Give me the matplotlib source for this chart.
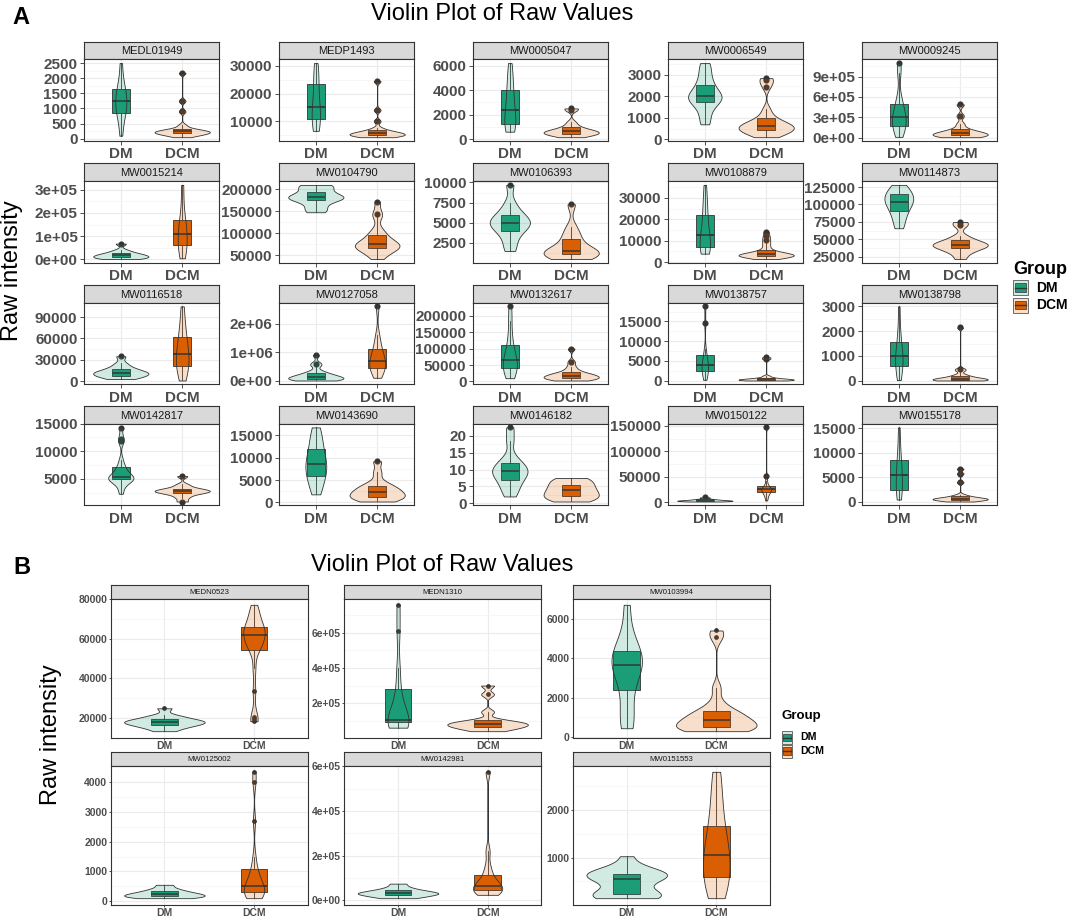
import numpy as np
import matplotlib
matplotlib.use("Agg")
import matplotlib.pyplot as plt
from matplotlib.patches import Rectangle
from matplotlib.lines import Line2D
from matplotlib.ticker import AutoMinorLocator

plt.rcParams['font.family'] = ['Liberation Sans', 'DejaVu Sans']

W, H = 1072, 917

groups = ["DM", "DCM"]
group_colors = ["#1B9E77", "#D95F02"]

# ---- panel A : raw intensities (approximate samples) ----
a_names = ["MEDL01949", "MEDP1493", "MW0005047", "MW0006549", "MW0009245",
           "MW0015214", "MW0104790", "MW0106393", "MW0108879", "MW0114873",
           "MW0116518", "MW0127058", "MW0132617", "MW0138757", "MW0138798",
           "MW0142817", "MW0143690", "MW0146182", "MW0150122", "MW0155178"]

a_dm = [
    [100, 500, 800, 850, 1000, 1150, 1250, 1300, 1450, 1650, 1700, 2000, 2500],
    [6500, 8000, 10500, 12000, 14500, 16000, 20000, 24500, 27000, 31000],
    [600, 800, 1000, 1250, 1500, 2000, 2400, 2800, 3500, 4000, 4600, 5400, 6200],
    [700, 1100, 1500, 1750, 1850, 1950, 2000, 2100, 2300, 2550, 2800, 3200, 3550],
    [10000, 80000, 150000, 170000, 220000, 280000, 310000, 350000, 420000, 500000, 600000, 960000, 1100000],
    [2000, 5000, 8000, 10000, 14000, 18000, 20000, 25000, 30000, 40000, 68000],
    [148000, 155000, 165000, 175000, 178000, 180000, 182000, 185000, 190000, 195000, 205000, 208000, 210000],
    [1500, 2500, 3500, 4000, 4500, 4800, 5000, 5200, 5600, 6000, 6500, 7500, 9700],
    [4000, 5000, 6500, 7000, 8000, 10000, 12500, 14000, 18000, 22000, 25000, 30000, 36000],
    [66000, 75000, 85000, 90000, 97000, 102000, 104000, 107000, 110000, 115000, 118000, 122000, 128000],
    [3000, 5000, 7000, 8000, 10000, 11000, 12000, 13000, 15000, 17000, 20000, 25000, 35000],
    [5000, 15000, 30000, 45000, 55000, 70000, 90000, 110000, 130000, 150000, 180000, 210000, 240000,
     280000, 350000, 550000, 600000, 900000],
    [10000, 20000, 35000, 40000, 50000, 58000, 65000, 75000, 90000, 112000, 140000, 185000, 228000],
    [200, 1000, 2000, 2500, 3000, 3600, 4000, 4500, 5500, 6500, 8000, 14500, 18800],
    [20, 200, 450, 580, 750, 880, 980, 1100, 1300, 1580, 1800, 2300, 3000],
    [2300, 3500, 4300, 4800, 5000, 5050, 5100, 5150, 5200, 5400, 5800, 6300, 7000, 7200, 8500,
     11800, 12300, 14300],
    [1800, 3500, 5000, 6000, 7000, 8000, 8500, 9500, 10500, 12000, 13500, 15000, 16800],
    [2, 4, 5.5, 7, 8, 9, 9.5, 10, 11, 12, 13.5, 18.5, 22.5],
    [1000, 1500, 2000, 2200, 2600, 3000, 3400, 4000, 5000, 6000, 9000],
    [500, 1500, 2000, 2500, 3500, 4500, 5500, 6500, 7500, 8500, 10000, 12500, 15200],
]

a_dcm = [
    [50, 100, 130, 150, 170, 190, 200, 220, 230, 250, 270, 280, 300, 350, 450, 900, 1250, 2180],
    [4200, 4400, 4600, 4800, 5000, 5200, 5400, 5500, 5700, 6000, 6300, 6600, 7500, 10000, 14000, 24500],
    [150, 250, 350, 400, 450, 500, 550, 600, 650, 700, 800, 900, 1100, 1400, 2400, 2500],
    [100, 200, 300, 350, 400, 450, 500, 550, 580, 620, 700, 750, 800, 900, 1100, 1400, 2450, 2750, 2850],
    [5000, 15000, 25000, 30000, 40000, 50000, 60000, 70000, 85000, 100000, 130000, 200000, 320000, 490000],
    [5000, 30000, 55000, 65000, 90000, 110000, 130000, 160000, 175000, 240000, 320000],
    [42000, 50000, 58000, 62000, 66000, 68000, 70000, 72000, 74000, 76000, 78000, 82000, 88000, 95000,
     100000, 110000, 140000, 145000, 172000],
    [500, 700, 900, 1100, 1200, 1400, 1500, 1700, 2200, 3000, 3500, 4500, 7300],
    [1500, 2000, 2300, 2500, 2700, 2900, 3000, 3200, 3300, 3500, 3600, 3800, 4000, 4300, 4500, 5000,
     6000, 7500, 9000, 10500, 12000, 14000],
    [22000, 30000, 34000, 37000, 39000, 41000, 42000, 43000, 45000, 47000, 50000, 55000, 70000, 75000],
    [1000, 10000, 17000, 22000, 28000, 33000, 38000, 45000, 52000, 62000, 70000, 85000, 105000],
    [100000, 250000, 400000, 450000, 550000, 650000, 700000, 800000, 950000, 1100000, 1300000, 1600000, 2600000],
    [3000, 5000, 7000, 9000, 10000, 12000, 14000, 16000, 18000, 20000, 22000, 25000, 28000, 35000,
     45000, 60000, 100000],
    [20, 50, 100, 130, 180, 250, 300, 350, 400, 500, 600, 800, 1200, 5500, 5900],
    [5, 10, 15, 20, 30, 40, 50, 60, 80, 100, 120, 150, 200, 250, 430, 460, 2150],
    [900, 1600, 2100, 2400, 2550, 2700, 2800, 2900, 3050, 3200, 3500, 4000, 5500],
    [200, 500, 800, 1100, 1300, 1600, 1900, 2300, 2600, 3000, 3400, 3800, 4500, 6700, 9200],
    [0.5, 1, 1.5, 2, 2.5, 3, 3.8, 4.2, 5, 5.5, 6.5, 7, 7.5],
    [3000, 10000, 15000, 18000, 20000, 22000, 24000, 25000, 26000, 28000, 30000, 33000, 42000, 52000, 147000],
    [100, 200, 300, 400, 500, 550, 600, 650, 700, 800, 900, 1000, 1200, 1500, 4000, 5800, 6800],
]

a_ticks = [
    [0, 500, 1000, 1500, 2000, 2500], [10000, 20000, 30000], [0, 2000, 4000, 6000],
    [0, 1000, 2000, 3000], [0, 300000, 600000, 900000],
    [0, 100000, 200000, 300000], [50000, 100000, 150000, 200000], [2500, 5000, 7500, 10000],
    [0, 10000, 20000, 30000], [25000, 50000, 75000, 100000, 125000],
    [0, 30000, 60000, 90000], [0, 1000000, 2000000], [0, 50000, 100000, 150000, 200000],
    [0, 5000, 10000, 15000], [0, 1000, 2000, 3000],
    [5000, 10000, 15000], [0, 5000, 10000, 15000], [0, 5, 10, 15, 20],
    [0, 50000, 100000, 150000], [0, 5000, 10000, 15000],
]
a_sci = ["MW0009245", "MW0015214", "MW0127058"]

# ---- panel B ----
b_names = ["MEDN0523", "MEDN1310", "MW0103994", "MW0125002", "MW0142981", "MW0151553"]

b_dm = [
    [13500, 15000, 16000, 16500, 17200, 17800, 18000, 18500, 19000, 19500, 20500, 21500, 25000],
    [60000, 70000, 85000, 90000, 95000, 100000, 105000, 150000, 200000, 280000, 400000, 610000, 760000],
    [450, 800, 1500, 2400, 3000, 3500, 3650, 3800, 4000, 4350, 4600, 5300, 6700],
    [100, 120, 150, 180, 200, 230, 260, 300, 350, 420, 550],
    [10000, 15000, 20000, 25000, 28000, 31000, 33000, 36000, 40000, 45000, 50000, 60000, 75000],
    [150, 160, 180, 200, 220, 250, 280, 450, 550, 560, 580, 640, 660, 670, 690, 720, 800, 1030],
]

b_dcm = [
    [18500, 19500, 20500, 33500, 45000, 54500, 56000, 57000, 58000, 60000, 62000, 62500, 63000,
     64000, 65000, 66000, 67000, 70000, 72000, 74000, 77000],
    [40000, 50000, 58000, 65000, 70000, 75000, 80000, 85000, 90000, 95000, 105000, 150000, 250000, 300000],
    [300, 320, 350, 400, 450, 500, 600, 650, 700, 800, 900, 1000, 1100, 1200, 1300, 1400, 1800, 2500,
     5050, 5400],
    [100, 150, 200, 250, 280, 330, 380, 430, 480, 550, 650, 800, 960, 1100, 1500, 2700, 4000, 4350],
    [25000, 35000, 42000, 45000, 52000, 58000, 65000, 75000, 90000, 115000, 150000, 220000, 575000],
    [150, 300, 450, 600, 800, 950, 1060, 1200, 1450, 1670, 2000, 2400, 2800],
]

b_ticks = [
    [20000, 40000, 60000, 80000], [200000, 400000, 600000], [0, 2000, 4000, 6000],
    [0, 1000, 2000, 3000, 4000], [0, 200000, 400000, 600000], [1000, 2000],
]
b_sci = ["MEDN1310", "MW0142981"]


def ydensity(vals):
    # gaussian kde with R's bw.nrd0, trimmed to the data range
    v = np.asarray(vals, dtype=float)
    n = len(v)
    sd = v.std(ddof=1)
    q75, q25 = np.percentile(v, [75, 25])
    lo = min(sd, (q75 - q25) / 1.34) if q75 > q25 else sd
    bw = 0.9 * lo * n ** -0.2
    y = np.linspace(v.min(), v.max(), 512)
    d = np.exp(-0.5 * ((y[:, None] - v[None, :]) / bw) ** 2).sum(axis=1) / (n * bw * np.sqrt(2 * np.pi))
    return y, d


def px_axes(fig, left, top, w, h):
    return fig.add_axes([left / W, 1 - (top + h) / H, w / W, h / H])


def facet(fig, left, top, w, h, strip_h, name, dm, dcm, ticks, sci, st):
    sax = px_axes(fig, left, top, w, strip_h)
    sax.set_facecolor("#D9D9D9")
    sax.set_xticks([])
    sax.set_yticks([])
    for s in sax.spines.values():
        s.set_color("#333333")
        s.set_linewidth(0.8)
    sax.text(0.5, 0.45, name, ha="center", va="center", fontsize=st["strip"],
             color="#1A1A1A", transform=sax.transAxes)

    ax = px_axes(fig, left, top + strip_h, w, h)
    data = [dm, dcm]

    bp = ax.boxplot(data, positions=[1, 2], widths=0.3, patch_artist=True, showcaps=False,
                    whis=1.5, manage_ticks=False,
                    boxprops=dict(edgecolor="#333333", linewidth=0.6),
                    medianprops=dict(color="#333333", linewidth=1.3),
                    whiskerprops=dict(color="#333333", linewidth=0.6),
                    flierprops=dict(marker="o", markerfacecolor="#333333",
                                    markeredgecolor="#333333", markersize=st["dot"]))
    for patch, c in zip(bp["boxes"], group_colors):
        patch.set_facecolor(c)
        patch.set_zorder(2)

    dens = [ydensity(v) for v in data]
    dmax = max(d.max() for _, d in dens)
    for pos, (y, d), c in zip([1, 2], dens, group_colors):
        half = 0.45 * d / dmax
        ax.fill_betweenx(y, pos - half, pos + half, facecolor=matplotlib.colors.to_rgba(c, 0.2),
                         edgecolor="#333333", linewidth=0.6, zorder=3)

    allv = np.concatenate([np.asarray(dm, float), np.asarray(dcm, float)])
    lo, hi = allv.min(), allv.max()
    r = hi - lo
    ax.set_ylim(lo - 0.05 * r, hi + 0.05 * r)
    ax.set_xlim(0.4, 2.6)
    ax.set_xticks([1, 2])
    ax.set_xticklabels(groups)
    ax.set_yticks(ticks)
    if sci:
        ax.set_yticklabels([f"{t:.0e}" for t in ticks])
    else:
        ax.set_yticklabels([str(t) for t in ticks])
    ax.yaxis.set_minor_locator(AutoMinorLocator(2))
    ax.set_axisbelow(True)
    ax.grid(True, which="major", color="#EBEBEB", linewidth=0.8)
    ax.grid(True, which="minor", axis="y", color="#F4F4F4", linewidth=0.5)
    ax.tick_params(which="minor", length=0)
    ax.tick_params(which="major", length=st["tlen"], width=0.6, color="#333333", pad=st["pad"],
                   labelsize=st["tick"], labelcolor="#4D4D4D")
    for lab in ax.get_xticklabels() + ax.get_yticklabels():
        lab.set_fontweight("bold")
    for s in ax.spines.values():
        s.set_color("#333333")
        s.set_linewidth(0.8)
    return ax


def legend(fig, x, y_title, key_y0, key_w, key_h, step, title_size, label_size):
    fig.text(x / W, 1 - y_title / H, "Group", fontsize=title_size, fontweight="bold",
             ha="left", va="center")
    for i, (g, c) in enumerate(zip(groups, group_colors)):
        ky = key_y0 + i * step
        light = matplotlib.colors.to_rgba(c, 0.2)
        fig.patches.append(Rectangle((x / W, 1 - (ky + key_h) / H), key_w / W, key_h / H,
                                     transform=fig.transFigure, facecolor=light,
                                     edgecolor="#555555", linewidth=0.6))
        fig.patches.append(Rectangle(((x + key_w * 0.12) / W, 1 - (ky + key_h * 0.78) / H),
                                     key_w * 0.76 / W, key_h * 0.56 / H,
                                     transform=fig.transFigure, facecolor=c,
                                     edgecolor="#333333", linewidth=0.5))
        fig.lines.append(Line2D([(x + key_w * 0.12) / W, (x + key_w * 0.88) / W],
                                [1 - (ky + key_h * 0.5) / H] * 2, transform=fig.transFigure,
                                color="#333333", linewidth=1.0))
        fig.text((x + key_w + 8) / W, 1 - (ky + key_h / 2) / H, g, fontsize=label_size,
                 fontweight="bold", ha="left", va="center")


fig = plt.figure(figsize=(W / 100, H / 100), dpi=100)

# panel A layout
a_style = dict(strip=8, tick=11, dot=3.4, tlen=2.75, pad=2)
a_cols = [84, 279, 473, 668, 862]
a_rows = [41.7, 163.5, 285, 406]
for i, name in enumerate(a_names):
    r, c = divmod(i, 5)
    facet(fig, a_cols[c], a_rows[r], 135, 81.5, 17.7, name, a_dm[i], a_dcm[i],
          a_ticks[i], name in a_sci, a_style)

fig.text(12 / W, 1 - 17 / H, "A", fontsize=17, fontweight="bold", ha="left", va="center")
fig.text(502 / W, 1 - 20 / H, "Violin Plot of Raw Values", fontsize=17, ha="center",
         va="baseline")
fig.text(12 / W, 1 - 271 / H, "Raw intensity", fontsize=17, rotation=90, ha="center",
         va="center")
legend(fig, 1013, 270, 280, 15, 15, 17.5, 13, 10)

# panel B layout
b_style = dict(strip=5.6, tick=7.5, dot=2.4, tlen=1.6, pad=0.8)
b_cols = [110.7, 344.3, 573]
b_rows = [585, 752]
for i, name in enumerate(b_names):
    r, c = divmod(i, 3)
    facet(fig, b_cols[c], b_rows[r], 197, 139, 13.5, name, b_dm[i], b_dcm[i],
          b_ticks[i], name in b_sci, b_style)

fig.text(13 / W, 1 - 568 / H, "B", fontsize=17, fontweight="bold", ha="left", va="center")
fig.text(442 / W, 1 - 571 / H, "Violin Plot of Raw Values", fontsize=17, ha="center",
         va="baseline")
fig.text(51 / W, 1 - 735 / H, "Raw intensity", fontsize=17, rotation=90, ha="center",
         va="center")
legend(fig, 782, 716, 731, 10, 13, 13.5, 9.5, 7.6)

fig.savefig("out.png", dpi=100, facecolor="white")
